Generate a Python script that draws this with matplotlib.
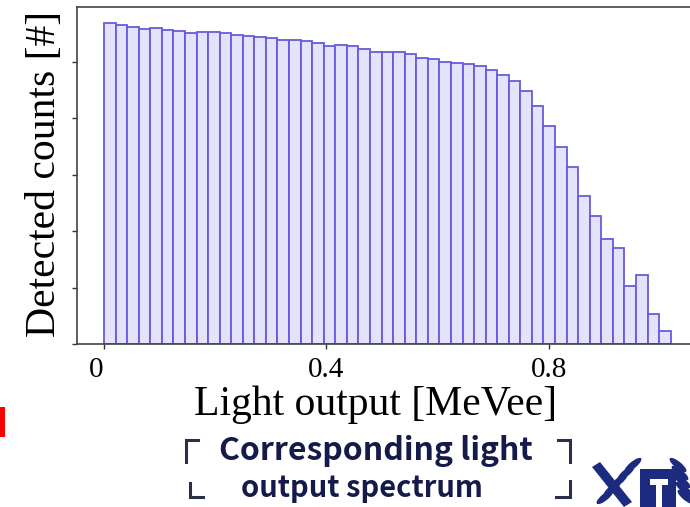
import numpy as np
import matplotlib
matplotlib.use("Agg")
import matplotlib.pyplot as plt
from matplotlib.patches import Rectangle, Ellipse, Polygon
from matplotlib.lines import Line2D
from matplotlib.transforms import ScaledTranslation

# histogram of light output, bins of ~0.021 MeVee starting at 0
bin_width = 0.0208
counts = [5686, 5656, 5626, 5580, 5597, 5567, 5550, 5514, 5527, 5527,
          5514, 5479, 5461, 5449, 5420, 5390, 5390, 5378, 5342, 5289,
          5301, 5284, 5230, 5172, 5183, 5183, 5142, 5066, 5048, 5000,
          4977, 4965, 4934, 4853, 4764, 4663, 4480, 4220, 3871, 3498,
          3144, 2624, 2270, 1862, 1708, 1028, 1229, 537, 230]
x_ticks = [0, 0.4, 0.8]
x_tick_labels = ["0", "0.4", "0.8"]
y_ticks = [0, 1000, 2000, 3000, 4000, 5000]

W, H = 690, 507
fig = plt.figure(figsize=(6.9, 5.07), dpi=100)
ax = fig.add_axes([77 / W, 1 - 344 / H, 1 - 77 / W, (344 - 7) / H])

left_edges = np.arange(len(counts)) * bin_width
ax.bar(left_edges, counts, width=bin_width, align="edge",
       facecolor="#e4e3fb", edgecolor="#665cdc", linewidth=1.3)

ax.set_xlim(-0.0486, 1.054)
ax.set_ylim(0, 5975)
ax.set_xticks(x_ticks)
ax.set_xticklabels(x_tick_labels, family="Liberation Serif", fontsize=21)
ax.set_yticks(y_ticks)
ax.set_yticklabels([])
ax.tick_params(direction="out", length=3.5, width=1, color="#333333", pad=6)
for s in ["left", "bottom", "top"]:
    ax.spines[s].set_color("#444444")
    ax.spines[s].set_linewidth(1.2)
ax.spines["right"].set_visible(False)
# the "0" label sits a bit left of its tick in the original
first = ax.get_xticklabels()[0]
first.set_transform(first.get_transform() + ScaledTranslation(-8 / 100, 0, fig.dpi_scale_trans))

ax.set_xlabel("Light output [MeVee]", family="Liberation Serif", fontsize=30)
ax.xaxis.label.set_va("center")
ax.xaxis.set_label_coords((376 - 77) / 613, (344 - 405) / 337)
ax.set_ylabel("Detected counts [#]", family="Liberation Serif", fontsize=30)
ax.yaxis.label.set_va("center")
ax.yaxis.set_label_coords((45 - 77) / 613, (344 - 174) / 337)

# slide caption below the chart
navy = "#141a4a"
fig.text(376 / W, 1 - 451 / H, "Corresponding light", family="Noto Sans CJK KR",
         weight="bold", fontsize=23, color=navy, ha="center", va="center")
fig.text(362 / W, 1 - 488 / H, "output spectrum", family="Noto Sans CJK KR",
         weight="bold", fontsize=21, color=navy, ha="center", va="center")

# corner brackets around the caption
corners = [
    ([198, 186, 186], [440, 440, 462]),
    ([558, 570, 570], [440, 440, 462]),
    ([190, 190, 203], [483, 497, 497]),
    ([556, 570, 570], [497, 497, 481]),
]
for xs, ys in corners:
    fig.lines.append(Line2D([v / W for v in xs], [1 - v / H for v in ys],
                            transform=fig.transFigure, color="#2a2f4a",
                            linewidth=2.2, solid_joinstyle="miter"))

# red marker cut at the left edge
fig.patches.append(Rectangle((0, 1 - 437 / H), 5 / W, 30 / H, transform=fig.transFigure,
                             facecolor="#ff0000", edgecolor="none"))

# rough university emblem in the corner
logo = "#1c2a80"
fig.patches.append(Rectangle((640 / W, 0), 36 / W, 38 / H, transform=fig.transFigure,
                             facecolor=logo, edgecolor="none"))
fig.patches.append(Polygon([(650 / W, 28 / H), (668 / W, 28 / H), (668 / W, 22 / H),
                            (662 / W, 22 / H), (662 / W, 0), (656 / W, 0),
                            (656 / W, 22 / H), (650 / W, 22 / H)],
                           closed=True, transform=fig.transFigure,
                           facecolor="white", edgecolor="none"))
for i in range(5):
    fig.patches.append(Ellipse(((605 + i * 7) / W, (10 + i * 8) / H), 8 / W, 18 / H,
                               angle=-40, transform=fig.transFigure,
                               facecolor=logo, edgecolor="none"))
    fig.patches.append(Ellipse(((686 - i * 2) / W, (10 + i * 8) / H), 8 / W, 18 / H,
                               angle=40, transform=fig.transFigure,
                               facecolor=logo, edgecolor="none"))
fig.patches.append(Polygon([(592 / W, 40 / H), (600 / W, 45 / H), (632 / W, 5 / H),
                            (624 / W, 0)], closed=True, transform=fig.transFigure,
                           facecolor=logo, edgecolor="none"))

fig.savefig("out.png", dpi=100)
